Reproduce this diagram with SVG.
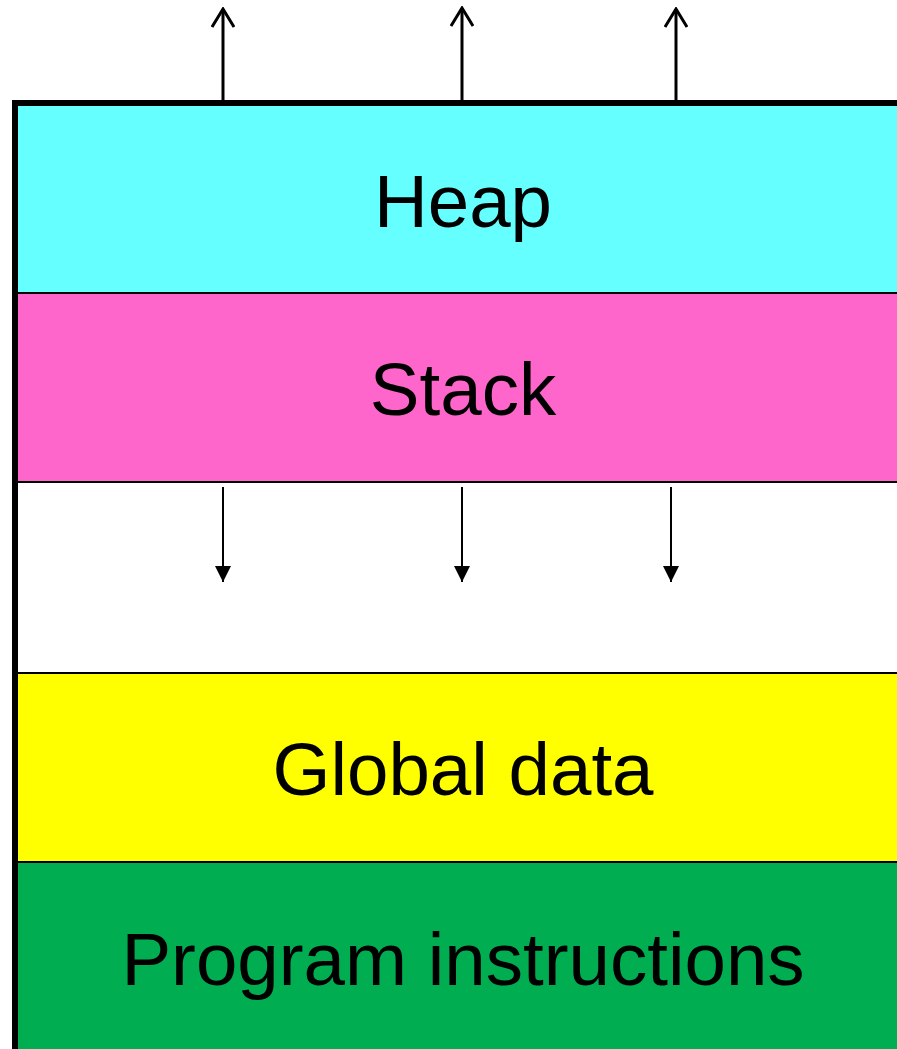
<svg xmlns="http://www.w3.org/2000/svg" width="897" height="1049" viewBox="0 0 897 1049">
<defs>
<style>
.band{stroke:#000;stroke-width:2}
.lbl{font-family:"Liberation Sans",Arial,sans-serif;font-size:74.5px;text-anchor:middle;fill:#000}
.up{stroke:#000;stroke-width:3;fill:none}
.down{stroke:#000;stroke-width:2;fill:none}
</style>
<marker id="open" viewBox="0 0 22 24" refX="20" refY="12" markerWidth="22" markerHeight="24" markerUnits="userSpaceOnUse" orient="auto">
<path d="M2,1 L20,12 L2,23" fill="none" stroke="#000" stroke-width="3"/>
</marker>
<marker id="tri" viewBox="0 0 16 16" refX="16" refY="8" markerWidth="16" markerHeight="16" markerUnits="userSpaceOnUse" orient="auto">
<path d="M0,0 L16,8 L0,16 Z" fill="#000"/>
</marker>
</defs>
<rect width="897" height="1049" fill="#fff"/>
<g id="heap"><rect class="band" x="15" y="103" width="890" height="190" fill="#66FFFF"/><text class="lbl" x="463" y="227">Heap</text></g>
<g id="stack"><rect class="band" x="15" y="293" width="890" height="189" fill="#FF66CC"/><text class="lbl" x="463" y="415">Stack</text></g>
<g id="free"><rect class="band" x="15" y="482" width="890" height="191" fill="#FFFFFF"/></g>
<g id="global"><rect class="band" x="15" y="673" width="890" height="189" fill="#FFFF00"/><text class="lbl" x="463" y="795">Global data</text></g>
<g id="program"><rect class="band" x="15" y="862" width="890" height="200" fill="#00AD50"/><text class="lbl" x="463" y="985">Program instructions</text></g>
<g id="frame"><path d="M15,1049 L15,103 L897,103" fill="none" stroke="#000" stroke-width="6"/></g>
<g id="connectors">
<line class="up" x1="223" y1="100" x2="223" y2="9" marker-end="url(#open)"/>
<line class="up" x1="462" y1="100" x2="462" y2="8" marker-end="url(#open)"/>
<line class="up" x1="676" y1="100" x2="676" y2="9" marker-end="url(#open)"/>
<line class="down" x1="223" y1="487" x2="223" y2="582" marker-end="url(#tri)"/>
<line class="down" x1="462" y1="487" x2="462" y2="582" marker-end="url(#tri)"/>
<line class="down" x1="671" y1="487" x2="671" y2="582" marker-end="url(#tri)"/>
</g>
</svg>
